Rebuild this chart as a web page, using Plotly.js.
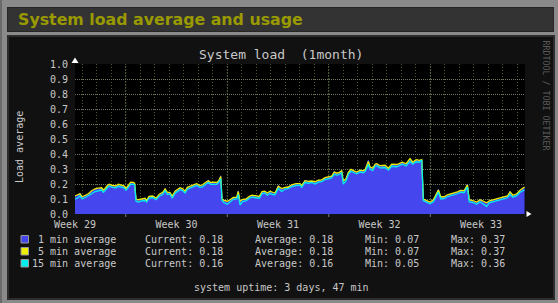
<!DOCTYPE html>
<html>
<head>
<meta charset="utf-8">
<script src="https://cdn.plot.ly/plotly-3.0.1.min.js"></script>
<style>
  html, body { margin:0; padding:0; }
  body { width:558px; height:303px; overflow:hidden; background:#8a8a8a; position:relative; }
  #edge { position:absolute; left:0; top:0; width:2px; height:303px; background:#6a6a6a; }
  #header { position:absolute; left:7px; top:7px; width:545px; height:23px; background:#333333; border:1px solid #262626;
            font-family:"DejaVu Sans", sans-serif; font-weight:bold; font-size:15.8px; color:#999900; line-height:23px; }
  #header span { position:absolute; left:10px; top:0px; }
  #imgbox { position:absolute; left:7px; top:35px; width:544px; height:261px; background:#111111; border:2px solid #2c2c2c; }
  #chart { position:absolute; left:0; top:0; width:558px; height:303px; }
</style>
</head>
<body>
<div id="edge"></div>
<div id="header"><span>System load average and usage</span></div>
<div id="imgbox"></div>
<div id="chart"></div>
<script>
// time axis in days from the left edge of the graph
const days = [0.00,0.16,0.34,0.50,0.69,0.92,1.15,1.38,1.61,1.84,1.95,2.07,2.23,2.37,2.60,2.83,2.99,3.22,3.38,3.52,3.68,3.84,4.02,4.11,4.21,4.37,4.60,4.83,4.94,5.10,5.36,5.59,5.82,6.05,6.21,6.37,6.55,6.71,6.90,7.06,7.24,7.43,7.59,7.75,7.93,8.16,8.39,8.62,8.80,8.97,9.20,9.36,9.59,9.77,9.91,10.05,10.14,10.28,10.50,10.69,10.92,11.15,11.26,11.38,11.57,11.79,12.02,12.21,12.48,12.71,12.90,13.08,13.26,13.45,13.63,13.79,14.02,14.25,14.48,14.71,14.94,15.24,15.52,15.63,15.86,16.09,16.32,16.55,16.78,17.01,17.24,17.47,17.70,17.88,18.05,18.23,18.39,18.50,18.69,18.85,19.03,19.24,19.43,19.66,19.88,20.02,20.23,20.34,20.53,20.69,20.81,21.03,21.38,21.61,21.84,22.19,22.57,22.83,23.10,23.29,23.52,23.75,23.91,24.02,24.26,24.48,24.71,24.90,25.06,25.22,25.45,25.68,25.91,26.14,26.37,26.60,26.83,27.06,27.19,27.43,27.70,27.93,28.21,28.39,28.57,28.85,29.08,29.36,29.59,29.82,30.00,30.19,30.46,30.69,31.00];

const load1 = [0.115,0.12,0.14,0.11,0.12,0.13,0.15,0.165,0.168,0.172,0.155,0.165,0.19,0.195,0.185,0.185,0.195,0.19,0.185,0.165,0.19,0.21,0.205,0.2,0.095,0.09,0.095,0.10,0.085,0.115,0.118,0.10,0.13,0.14,0.17,0.14,0.14,0.115,0.15,0.16,0.172,0.165,0.148,0.175,0.183,0.19,0.20,0.185,0.19,0.205,0.225,0.205,0.21,0.205,0.22,0.255,0.095,0.085,0.08,0.09,0.107,0.11,0.155,0.08,0.095,0.095,0.115,0.122,0.115,0.113,0.148,0.15,0.135,0.148,0.14,0.135,0.19,0.165,0.175,0.178,0.192,0.20,0.20,0.185,0.225,0.215,0.218,0.21,0.222,0.225,0.24,0.245,0.25,0.285,0.268,0.275,0.29,0.21,0.23,0.28,0.295,0.283,0.275,0.29,0.283,0.295,0.36,0.31,0.30,0.33,0.335,0.318,0.32,0.30,0.33,0.325,0.345,0.33,0.367,0.34,0.36,0.355,0.36,0.095,0.085,0.075,0.09,0.13,0.165,0.11,0.11,0.125,0.13,0.14,0.145,0.155,0.15,0.20,0.09,0.085,0.075,0.09,0.075,0.07,0.085,0.09,0.10,0.10,0.112,0.115,0.15,0.12,0.13,0.155,0.175];

const load5 = [0.12,0.125,0.135,0.115,0.125,0.135,0.155,0.168,0.172,0.175,0.16,0.17,0.19,0.198,0.19,0.188,0.198,0.195,0.188,0.17,0.192,0.212,0.21,0.205,0.10,0.095,0.10,0.105,0.09,0.118,0.12,0.105,0.132,0.145,0.168,0.145,0.142,0.12,0.152,0.163,0.175,0.168,0.152,0.178,0.185,0.195,0.202,0.19,0.195,0.208,0.222,0.21,0.213,0.21,0.222,0.25,0.10,0.09,0.085,0.095,0.11,0.112,0.15,0.085,0.098,0.10,0.118,0.125,0.12,0.118,0.15,0.152,0.14,0.152,0.145,0.14,0.185,0.17,0.178,0.18,0.195,0.202,0.203,0.19,0.222,0.218,0.22,0.215,0.225,0.228,0.242,0.248,0.252,0.28,0.272,0.278,0.288,0.22,0.235,0.278,0.298,0.288,0.28,0.292,0.288,0.298,0.35,0.315,0.305,0.332,0.336,0.322,0.325,0.305,0.332,0.33,0.345,0.335,0.37,0.345,0.362,0.358,0.362,0.10,0.09,0.08,0.095,0.128,0.16,0.115,0.115,0.128,0.133,0.143,0.148,0.158,0.155,0.195,0.095,0.09,0.08,0.095,0.08,0.075,0.088,0.095,0.103,0.105,0.115,0.12,0.148,0.125,0.135,0.158,0.18];

const load15 = [0.10,0.105,0.12,0.10,0.11,0.12,0.135,0.15,0.155,0.16,0.145,0.155,0.175,0.185,0.178,0.175,0.185,0.182,0.175,0.158,0.178,0.198,0.198,0.195,0.085,0.08,0.088,0.09,0.08,0.105,0.11,0.095,0.12,0.13,0.155,0.13,0.132,0.105,0.138,0.15,0.162,0.155,0.14,0.165,0.172,0.18,0.19,0.178,0.18,0.195,0.21,0.198,0.20,0.198,0.21,0.235,0.09,0.075,0.065,0.082,0.098,0.10,0.13,0.06,0.085,0.088,0.105,0.112,0.108,0.105,0.135,0.14,0.125,0.138,0.13,0.128,0.17,0.15,0.165,0.17,0.182,0.19,0.192,0.178,0.21,0.205,0.21,0.20,0.212,0.215,0.23,0.235,0.24,0.265,0.258,0.265,0.275,0.20,0.22,0.265,0.285,0.275,0.268,0.28,0.275,0.285,0.33,0.30,0.29,0.318,0.322,0.308,0.31,0.292,0.318,0.315,0.332,0.32,0.35,0.332,0.348,0.345,0.36,0.09,0.078,0.068,0.082,0.115,0.145,0.10,0.102,0.115,0.12,0.13,0.135,0.145,0.142,0.18,0.08,0.078,0.065,0.082,0.065,0.05,0.075,0.082,0.09,0.092,0.102,0.108,0.13,0.112,0.122,0.145,0.16];

const weekLabelPos = [0, 7, 14, 21, 28];
const weekLabels = ["Week 29", "Week 30", "Week 31", "Week 32", "Week 33"];
const weekGrid = [3.5, 10.5, 17.5, 24.5];

const seriesNames = ["1 min average", "5 min average", "15 min average"];
const seriesColors = ["#4646ee", "#eeee00", "#00eeee"];
const currentVals = ["0.18", "0.18", "0.16"];
const averageVals = ["0.18", "0.18", "0.16"];
const minVals = ["0.07", "0.07", "0.05"];
const maxVals = ["0.37", "0.37", "0.36"];

const MONO = "DejaVu Sans Mono, monospace";
const TXT = "#c8c8c8";

// pixel -> paper helpers (plot area: x 75..525, y 64..214)
const L = 75, R = 33, T = 64, B = 89, W = 558, H = 303;
const pw = W - L - R, ph = H - T - B;
const px = x => (x - L) / pw;
const py = y => (H - B - y) / ph;

const traces = [
  {x: days, y: load1, type: "scatter", mode: "lines", fill: "tozeroy",
   fillcolor: seriesColors[0], line: {color: seriesColors[0], width: 1}, hoverinfo: "skip"},
  {x: days, y: load5, type: "scatter", mode: "lines",
   line: {color: seriesColors[1], width: 1.3}, hoverinfo: "skip"},
  {x: days, y: load15, type: "scatter", mode: "lines",
   line: {color: seriesColors[2], width: 1.3}, hoverinfo: "skip"}
];

const annotations = [];
const shapes = [];

// title
annotations.push({xref: "paper", yref: "paper", x: px(280.5), y: py(55), text: "System load\u00a0 (1month)",
  showarrow: false, xanchor: "center", yanchor: "middle", font: {family: MONO, size: 13, color: TXT}});
// y axis title
annotations.push({xref: "paper", yref: "paper", x: px(19), y: py(147), text: "Load average", textangle: -90,
  showarrow: false, xanchor: "center", yanchor: "middle", font: {family: MONO, size: 10, color: TXT}});
// watermark
annotations.push({xref: "paper", yref: "paper", x: px(545.5), y: py(95), text: "RRDTOOL / TOBI OETIKER", textangle: 90,
  showarrow: false, xanchor: "center", yanchor: "middle", font: {family: MONO, size: 8.3, color: "#5a5a5a"}});
// uptime
annotations.push({xref: "paper", yref: "paper", x: px(281.5), y: py(287), text: "system uptime: 3 days, 47 min",
  showarrow: false, xanchor: "center", yanchor: "middle", font: {family: MONO, size: 10, color: TXT}});

// legend rows
const rowY = [239, 251, 263];
for (let i = 0; i < 3; i++) {
  const y = rowY[i];
  shapes.push({type: "rect", xref: "paper", yref: "paper", x0: px(21), x1: px(28.5), y0: py(y + 4), y1: py(y - 3.5),
    fillcolor: seriesColors[i], line: {color: "#9a9a9a", width: 1}});
  const cols = [
    {x: 118, a: "right", t: seriesNames[i]},
    {x: 143, a: "left", t: "Current: " + currentVals[i]},
    {x: 253, a: "left", t: "Average: " + averageVals[i]},
    {x: 363, a: "left", t: "Min: " + minVals[i]},
    {x: 449, a: "left", t: "Max: " + maxVals[i]}
  ];
  cols.forEach(c => annotations.push({xref: "paper", yref: "paper", x: px(c.x), y: py(y), text: c.t,
    showarrow: false, xanchor: c.a, yanchor: "middle", font: {family: MONO, size: 10, color: TXT}}));
}

// week (major) vertical grid lines
weekGrid.forEach(d => shapes.push({type: "line", xref: "x", yref: "paper", x0: d, x1: d, y0: 0, y1: 1,
  line: {color: "#56744c", width: 1, dash: "1px,2px"}, layer: "below"}));
// week ticks below the axis
weekGrid.forEach(d => shapes.push({type: "line", xref: "x", yref: "paper", x0: d, x1: d, y0: py(214), y1: py(217),
  line: {color: "#7a7a7a", width: 1}}));

// axis arrows (paper anchored so they are not clipped)
shapes.push({type: "path", xref: "paper", yref: "paper", xsizemode: "pixel", ysizemode: "pixel",
  xanchor: 0, yanchor: 1, path: "M -3.5,1 L 3.5,1 L 0,6.5 Z", fillcolor: "#ffffff", line: {width: 0}});
shapes.push({type: "path", xref: "paper", yref: "paper", xsizemode: "pixel", ysizemode: "pixel",
  xanchor: 1, yanchor: 0, path: "M 1.5,-3 L 1.5,3 L 6.5,0 Z", fillcolor: "#ffffff", line: {width: 0}});

const layout = {
  width: W, height: H,
  margin: {l: L, r: R, t: T, b: B, pad: 0},
  paper_bgcolor: "rgba(0,0,0,0)",
  plot_bgcolor: "#000000",
  showlegend: false,
  xaxis: {
    range: [0, 31.03], fixedrange: true,
    tickmode: "array", tickvals: weekLabelPos, ticktext: weekLabels,
    showgrid: false, zeroline: false, showline: false, ticks: "",
    tickfont: {family: MONO, size: 10, color: TXT},
    ticklabelstandoff: 3,
    minor: {tick0: 0.5, dtick: 1, showgrid: true, gridcolor: "#56562f", griddash: "1px,2px", gridwidth: 1, ticks: ""}
  },
  yaxis: {
    range: [0, 1], fixedrange: true,
    tick0: 0, dtick: 0.1, tickformat: ".1f",
    showgrid: true, gridcolor: "#6e7a62", griddash: "1px,1px", gridwidth: 1,
    zeroline: false, showline: false, ticks: "",
    tickfont: {family: MONO, size: 10, color: TXT},
    ticklabelstandoff: 6
  },
  annotations: annotations,
  shapes: shapes
};

Plotly.newPlot("chart", traces, layout, {staticPlot: true, displayModeBar: false});
</script>
</body>
</html>
